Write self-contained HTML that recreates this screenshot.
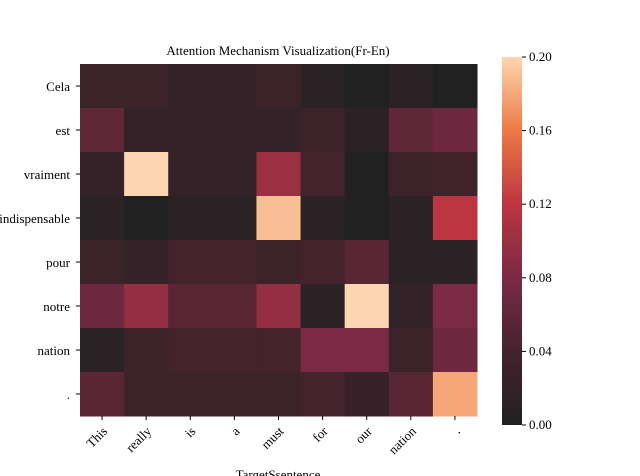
<!DOCTYPE html>
<html><head><meta charset="utf-8"><style>
body{margin:0;background:#fff}
svg{display:block;font-family:"Liberation Serif",serif}
</style></head><body>
<svg id="chart" width="640" height="476" viewBox="0 0 640 476">
<defs><linearGradient id="cbg" x1="0" y1="1" x2="0" y2="0">
<stop offset="0" stop-color="#212121"/><stop offset="0.2" stop-color="#45232d"/><stop offset="0.4" stop-color="#7a2a45"/><stop offset="0.6" stop-color="#bc3540"/><stop offset="0.8" stop-color="#ec7a45"/><stop offset="1" stop-color="#fdd5b0"/></linearGradient></defs>
<text x="278" y="55" font-size="13" text-anchor="middle">Attention Mechanism Visualization(Fr-En)</text>
<g id="cells"></g><g id="axes"></g>
<rect x="502" y="57" width="20" height="368" fill="url(#cbg)"/>
<g id="cbar"></g>
<text x="278" y="479" font-size="13" text-anchor="middle">TargetSsentence</text>
</svg>
<script>
const xLabels=["This","really","is","a","must","for","our","nation","."];
const yLabels=["Cela","est","vraiment","indispensable","pour","notre","nation","."];
const rowCela=[0.03,0.03,0.02,0.02,0.03,0.01,0.0,0.01,0.0];
const rowEst=[0.06,0.02,0.02,0.02,0.02,0.03,0.01,0.06,0.07];
const rowVraiment=[0.02,0.2,0.02,0.02,0.1,0.04,0.0,0.03,0.035];
const rowIndisp=[0.01,0.0,0.01,0.01,0.19,0.01,0.0,0.01,0.12];
const rowPour=[0.03,0.02,0.04,0.04,0.03,0.04,0.055,0.01,0.01];
const rowNotre=[0.07,0.095,0.055,0.055,0.095,0.01,0.2,0.02,0.08];
const rowNation=[0.01,0.03,0.04,0.04,0.04,0.08,0.08,0.03,0.07];
const rowDot=[0.055,0.03,0.03,0.03,0.03,0.04,0.025,0.055,0.18];
const cbTicks=[0,0.04,0.08,0.12,0.16,0.2];
const rows=[rowCela,rowEst,rowVraiment,rowIndisp,rowPour,rowNotre,rowNation,rowDot];
const NS="http://www.w3.org/2000/svg";
const X0=80,X1=477,Y0=64,Y1=416,VMAX=0.2;
const cw=(X1-X0)/xLabels.length,ch=(Y1-Y0)/yLabels.length;
const xs=i=>X0+i*cw, ys=j=>Y0+j*ch;
const stops=[[0,[33,33,33]],[0.2,[69,35,45]],[0.4,[122,42,69]],[0.6,[188,53,64]],[0.8,[236,122,69]],[1,[253,213,176]]];
function color(v){let t=Math.max(0,Math.min(1,v/VMAX));for(let k=1;k<stops.length;k++){if(t<=stops[k][0]){const a=stops[k-1],b=stops[k];const f=(t-a[0])/(b[0]-a[0]);return "rgb("+a[1].map((c,i)=>Math.round(c+(b[1][i]-c)*f)).join(",")+")";}}return "rgb(253,213,176)";}
function el(tag,attrs,parent){const e=document.createElementNS(NS,tag);for(const k in attrs)e.setAttribute(k,attrs[k]);parent.appendChild(e);return e;}
const cells=document.getElementById('cells'),axes=document.getElementById('axes'),cb=document.getElementById('cbar');
rows.forEach((r,j)=>r.forEach((v,i)=>{
const c=el('rect',{x:xs(i),y:ys(j),width:cw+0.5,height:ch+0.5,fill:color(v)},cells);


}));
xLabels.forEach((l,i)=>{const cx=xs(i)+cw/2;
const t=el('line',{x1:cx,y1:Y1,x2:cx,y2:Y1+4,stroke:'#000'},axes);


const tx=el('text',{x:cx+6,y:Y1+16,'font-size':13,'text-anchor':'end',transform:`rotate(-45 ${cx+6} ${Y1+16})`},axes);
tx.textContent=l;

});
yLabels.forEach((l,j)=>{const cy=ys(j)+ch/2;
const t=el('line',{x1:X0-4,y1:cy,x2:X0,y2:cy,stroke:'#000'},axes);


const tx=el('text',{x:X0-10,y:cy+5,'font-size':13,'text-anchor':'end'},axes);
tx.textContent=l;

});
cbTicks.forEach(v=>{const y=425-v/VMAX*368;
const t=el('line',{x1:522,y1:y,x2:526,y2:y,stroke:'#000'},cb);


const tx=el('text',{x:529,y:y+4,'font-size':13},cb);
tx.textContent=v.toFixed(2);

});
</script>
</body></html>
